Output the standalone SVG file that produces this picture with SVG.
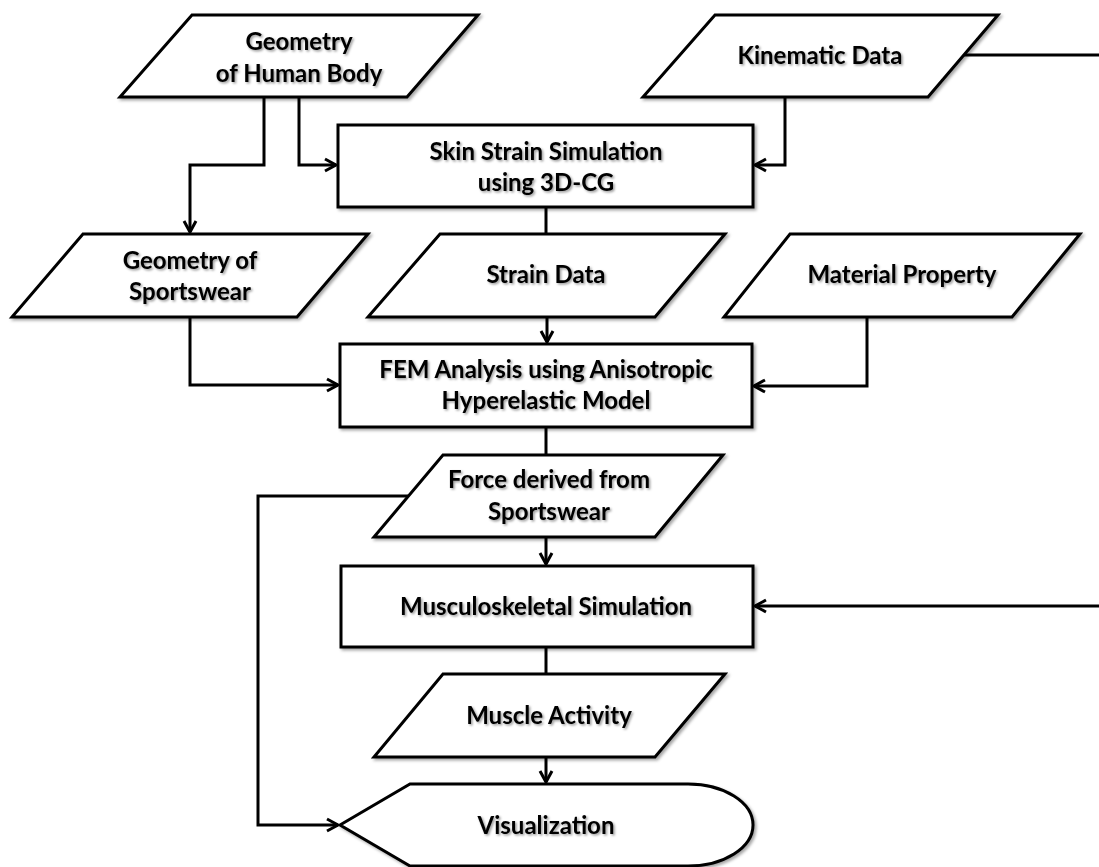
<svg xmlns="http://www.w3.org/2000/svg" width="1099" height="867" viewBox="0 0 1099 867">
  <style>
    .shape { fill: #ffffff; stroke: #000000; stroke-width: 3; stroke-linejoin: miter; filter: url(#shadow); }
    .lbl { font-family: Lato, "Liberation Sans", sans-serif; font-weight: bold; font-size: 24px; fill: #000000; text-anchor: middle; filter: url(#tshadow); }
    .conn { fill: none; stroke: #000000; stroke-width: 3; }
    .arr { marker-end: url(#arrow); }
  </style>
  <defs>
    <filter id="shadow" x="-10%" y="-10%" width="130%" height="140%">
      <feDropShadow dx="2" dy="2" stdDeviation="1.5" flood-color="#000000" flood-opacity="0.35"/>
    </filter>
    <filter id="tshadow" x="-10%" y="-20%" width="130%" height="160%">
      <feDropShadow dx="1.5" dy="1.5" stdDeviation="1" flood-color="#000000" flood-opacity="0.4"/>
    </filter>
    <marker id="arrow" markerUnits="userSpaceOnUse" markerWidth="20" markerHeight="20" viewBox="-14 -10 16 20" refX="0" refY="0" orient="auto">
      <path d="M-11,-6 L0,0 L-11,6" fill="none" stroke="#000000" stroke-width="3"/>
    </marker>
  </defs>
  <rect width="1099" height="867" fill="#ffffff"/>

  <g id="connectors">
    <path class="conn arr" d="M264,97 V165 H190 V232"/>
    <path class="conn arr" d="M299,97 V165 H336"/>
    <path class="conn arr" d="M785,97 V165 H755"/>
    <path class="conn" d="M964,55 H1099"/>
    <path class="conn" d="M546,207 V234"/>
    <path class="conn arr" d="M547,317 V342"/>
    <path class="conn arr" d="M190,317 V385 H338"/>
    <path class="conn arr" d="M867,317 V386 H754"/>
    <path class="conn" d="M546,427 V455"/>
    <path class="conn arr" d="M408,496 H258 V825 H338"/>
    <path class="conn arr" d="M546,537 V564"/>
    <path class="conn arr" d="M1099,606 H755"/>
    <path class="conn" d="M546,647 V674"/>
    <path class="conn arr" d="M546,757 V782"/>
  </g>

  <g id="geometry-human-body">
    <polygon class="shape" points="192,15 478,15 407,97 120,97"/>
    <text class="lbl" x="299" y="50">Geometry</text>
    <text class="lbl" x="299" y="82">of Human Body</text>
  </g>
  <g id="kinematic-data">
    <polygon class="shape" points="715,15 998,15 928,97 643,97"/>
    <text class="lbl" x="820" y="64">Kinematic Data</text>
  </g>
  <g id="skin-strain">
    <rect class="shape" x="338" y="125" width="415" height="82"/>
    <text class="lbl" x="546" y="160">Skin Strain Simulation</text>
    <text class="lbl" x="546" y="191">using 3D-CG</text>
  </g>
  <g id="geometry-sportswear">
    <polygon class="shape" points="83,234 368,234 297,317 12,317"/>
    <text class="lbl" x="190" y="269">Geometry of</text>
    <text class="lbl" x="190" y="300">Sportswear</text>
  </g>
  <g id="strain-data">
    <polygon class="shape" points="440,234 725,234 655,317 368,317"/>
    <text class="lbl" x="546" y="283">Strain Data</text>
  </g>
  <g id="material-property">
    <polygon class="shape" points="790,234 1080,234 1012,317 724,317"/>
    <text class="lbl" x="902" y="283">Material Property</text>
  </g>
  <g id="fem-analysis">
    <rect class="shape" x="340" y="344" width="412" height="83"/>
    <text class="lbl" x="546" y="378">FEM Analysis using Anisotropic</text>
    <text class="lbl" x="546" y="409">Hyperelastic Model</text>
  </g>
  <g id="force-derived">
    <polygon class="shape" points="443,455 723,455 655,537 374,537"/>
    <text class="lbl" x="549" y="488">Force derived from</text>
    <text class="lbl" x="549" y="520">Sportswear</text>
  </g>
  <g id="musculoskeletal">
    <rect class="shape" x="341" y="566" width="412" height="81"/>
    <text class="lbl" x="546" y="615">Musculoskeletal Simulation</text>
  </g>
  <g id="muscle-activity">
    <polygon class="shape" points="443,674 725,674 655,757 374,757"/>
    <text class="lbl" x="549" y="724">Muscle Activity</text>
  </g>
  <g id="visualization">
    <path class="shape" d="M340,825 L410,784 L688,784 A65,41 0 0 1 688,866 L410,866 Z"/>
    <text class="lbl" x="546" y="834">Visualization</text>
  </g>
</svg>
